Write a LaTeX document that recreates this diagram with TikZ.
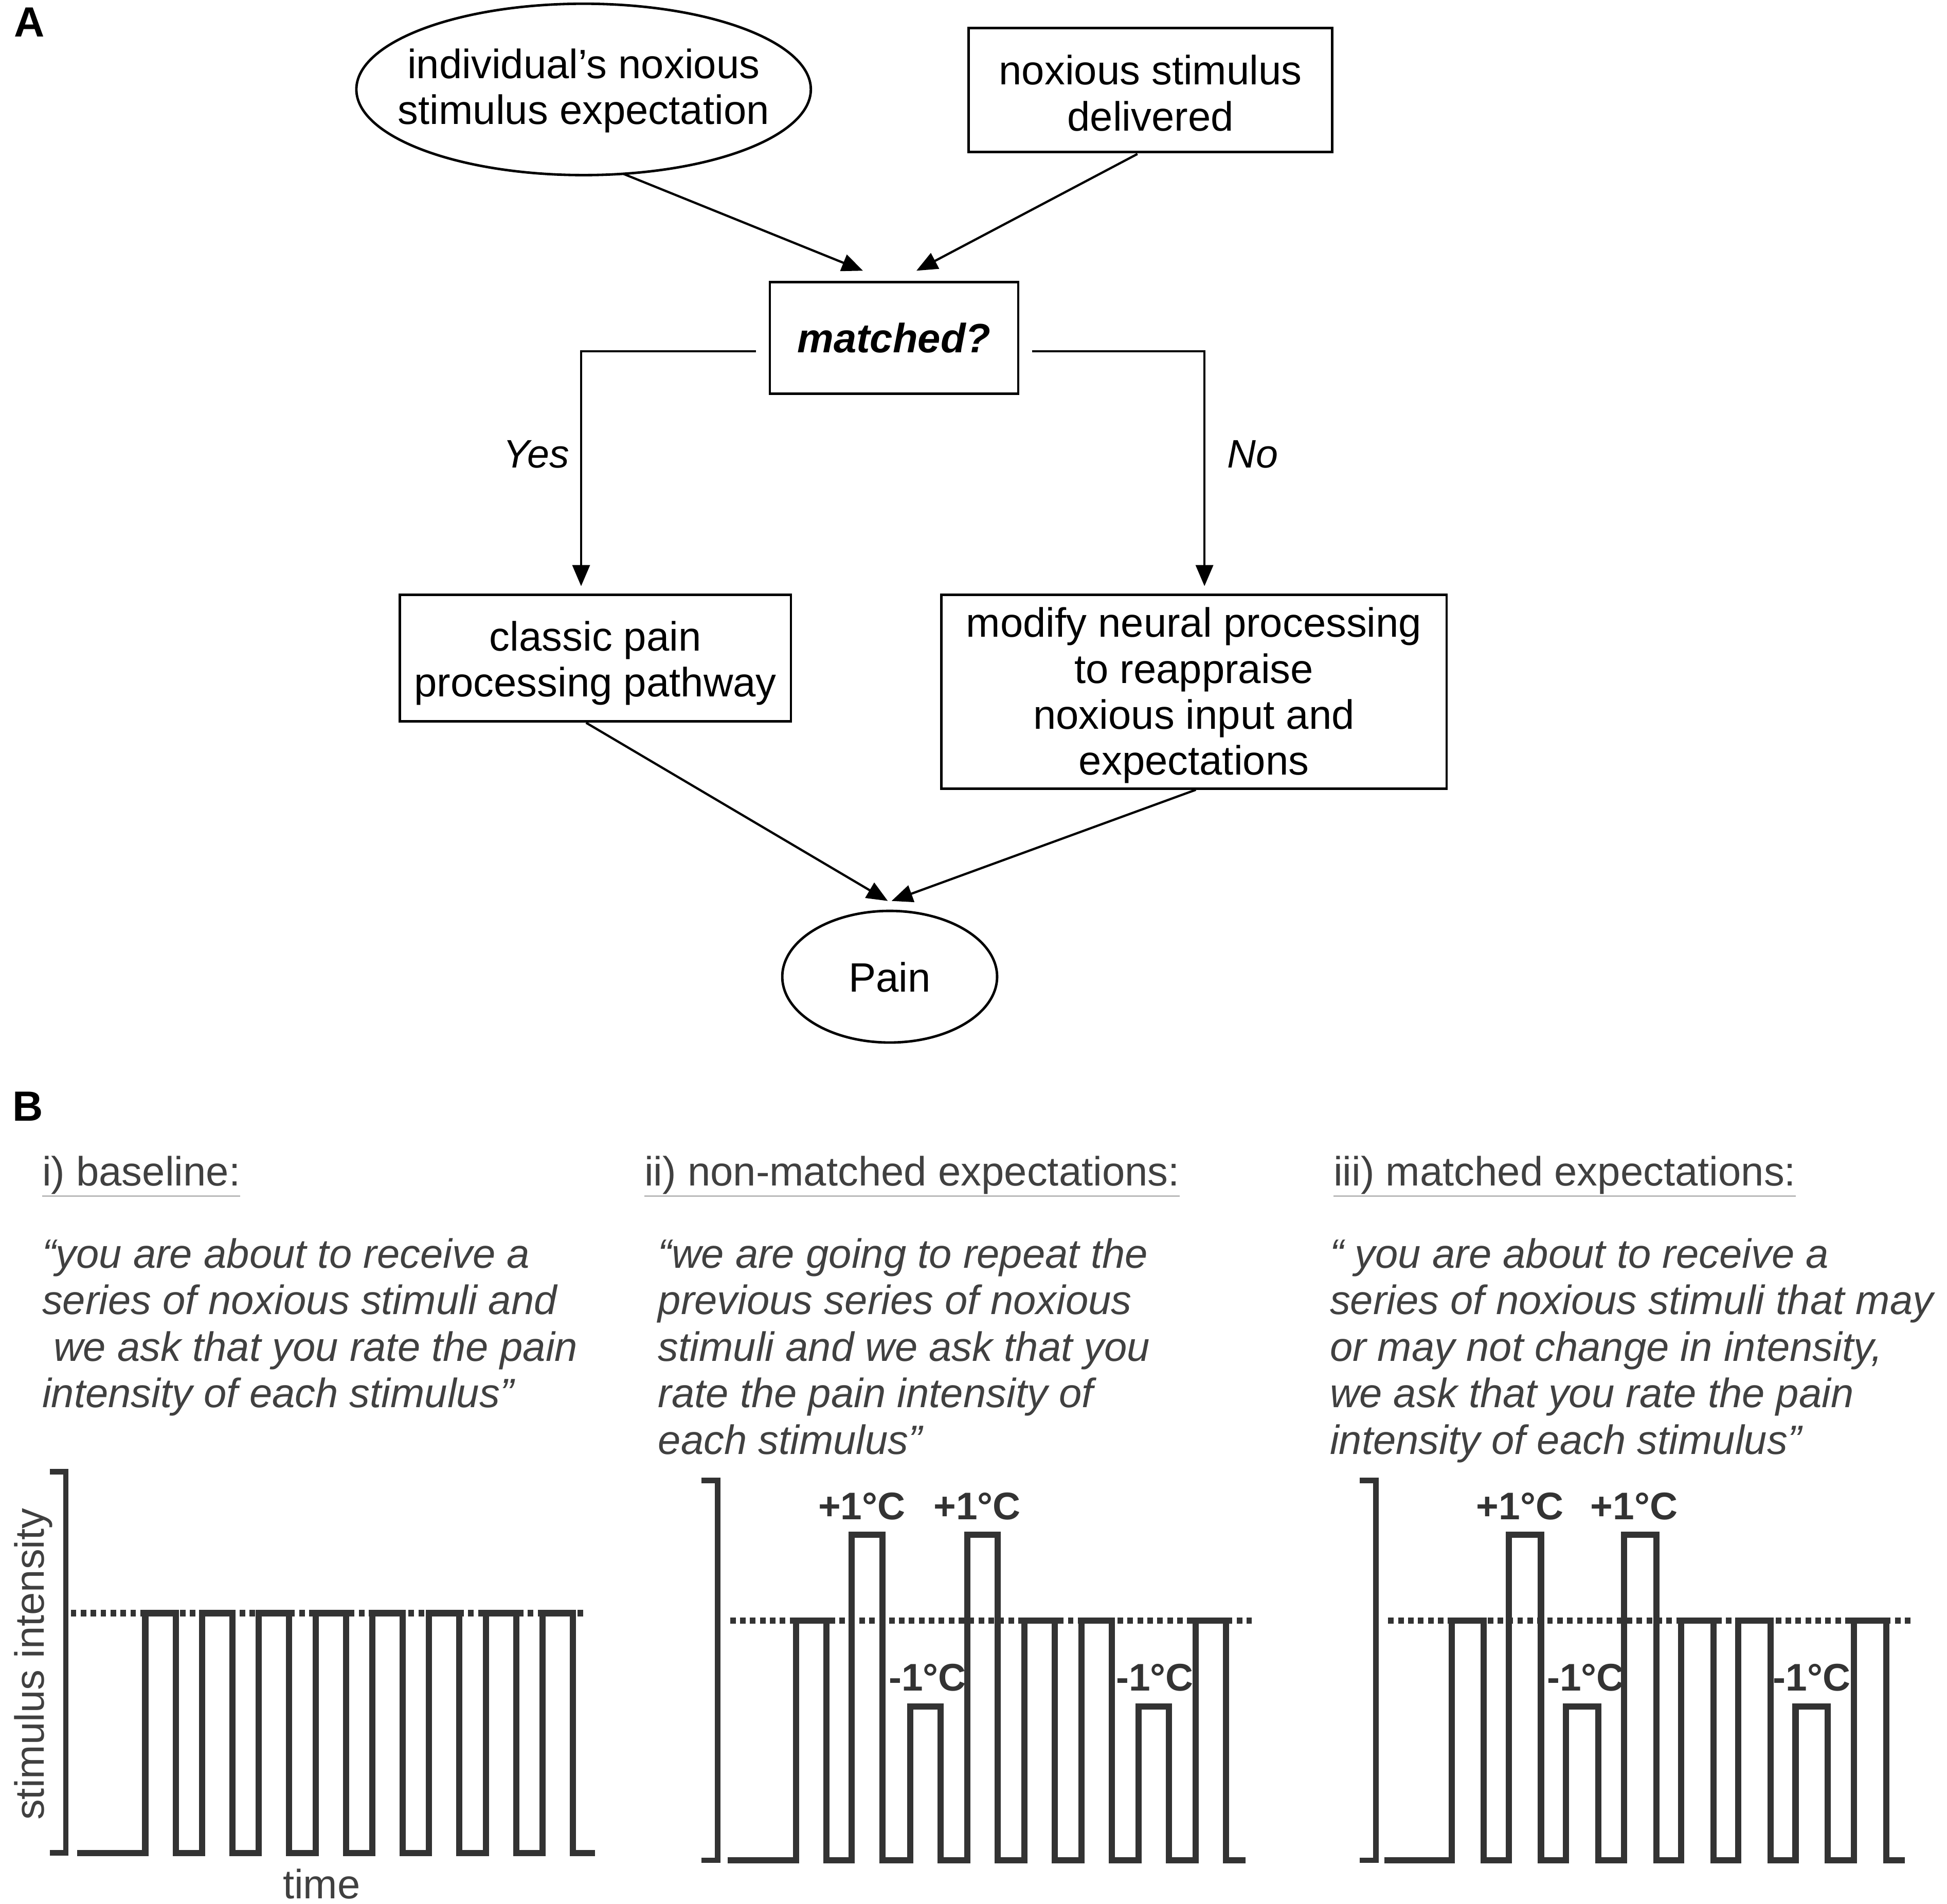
\documentclass[tikz,border=0pt]{standalone}
\usepackage{fontspec}
\setmainfont{Liberation Sans}
\usetikzlibrary{arrows.meta,shapes.geometric,calc}
\definecolor{txtB}{HTML}{404040}
\definecolor{waveC}{HTML}{333333}
\begin{document}
\begin{tikzpicture}[x=1pt,y=-1pt,
  every node/.style={inner sep=0pt,outer sep=0pt},
  ftxt/.style={font=\fontsize{33}{37}\selectfont,align=center},
  boxnode/.style={draw,line width=2pt,ftxt},
  ovalnode/.style={draw,ellipse,line width=2pt},
  arr/.style={line width=1.8pt,-{Triangle[length=17pt,width=14pt]}},
  panel/.style={font=\fontsize{34}{36}\selectfont\bfseries},
  branch/.style={font=\fontsize{32}{36}\selectfont\itshape},
  head/.style={font=\fontsize{33}{37}\selectfont,text=txtB,anchor=base west},
  quote/.style={font=\fontsize{33}{37.5}\selectfont\itshape,text=txtB,align=left,anchor=base west},
  wave/.style={draw=waveC,line width=5pt,line join=miter},
  bracket/.style={draw=waveC,line width=4.5pt},
  level/.style={draw=waveC,line width=5pt,dash pattern=on 4.5pt off 3.5pt},
  delta/.style={font=\fontsize{31}{33}\selectfont\bfseries,text=waveC},
  axis/.style={font=\fontsize{33}{37}\selectfont,text=txtB},
]
\fill[white] (0,0) rectangle (1568,1533.2);
\useasboundingbox (0,0) rectangle (1568,1533.2);

% ---------- Panel A ----------
\node[panel] (lblA) at (23.5,18) {A};
\node[ovalnode,minimum width=366pt,minimum height=138pt] (expect) at (470,72) {};
\node[ftxt] (expectT) at (470,73) {individual’s noxious\\stimulus expectation};
\node[boxnode,minimum width=293pt,minimum height=100pt] (deliv) at (926.5,72.5) {};
\node[ftxt] (delivT) at (926.5,75) {noxious stimulus\\delivered};
\node[boxnode,minimum width=200pt,minimum height=90pt,font=\fontsize{33}{37}\selectfont\bfseries\itshape] (match) at (720,272) {matched?};
\node[boxnode,minimum width=315pt,minimum height=102pt] (classic) at (479.5,530) {};
\node[ftxt] (classicT) at (479.5,534) {classic pain\\processing pathway};
\node[boxnode,minimum width=407pt,minimum height=156pt] (modify) at (961.5,557) {};
\node[ftxt] (modifyT) at (961.5,560) {modify neural processing\\to reappraise\\noxious input and\\expectations};
\node[ovalnode,minimum width=173pt,minimum height=106pt] (pain) at (716.5,786.5) {};
\node[ftxt] (painT) at (716.5,787) {Pain};

\draw[arr] ($(expect.south)+(32,-1)$) -- ($(match.north)+(-25,-9)$);
\draw[arr] ($(deliv.south)+(-10.5,1.5)$) -- ($(match.north)+(18,-9)$);
\draw[arr] ($(match.west)+(-11,11)$) -| ($(classic.north)+(-11.5,-7)$);
\draw[arr] ($(match.east)+(11,11)$) -| ($(modify.north)+(8.5,-7)$);
\node[branch] (yes) at (432,366) {Yes};
\node[branch] (no) at (1009,366) {No};
\draw[arr] ($(classic.south)+(-7.5,1)$) -- ($(pain.north)+(-1.5,-8)$);
\draw[arr] ($(modify.south)+(1.5,1)$) -- ($(pain.north)+(1.5,-8)$);

% ---------- Panel B ----------
\node[panel] (lblB) at (22.5,891) {B};
\node[head] (h1) at (34,955) {\underline{i) baseline:}};
\node[head] (h2) at (519,955) {\underline{ii) non-matched expectations:}};
\node[head] (h3) at (1074,955) {\underline{iii) matched expectations:}};

\node[quote] (q1) at (34,1133.5) {“you are about to receive a\\series of noxious stimuli and\\\hspace*{0.28em}we ask that you rate the pain\\intensity of each stimulus”};
\node[quote] (q2) at (530,1171) {“we are going to repeat the\\previous series of noxious\\stimuli and we ask that you\\rate the pain intensity of\\each stimulus”};
\node[quote] (q3) at (1071,1171) {“\ you are about to receive a\\series of noxious stimuli that may\\or may not change in intensity,\\we ask that you rate the pain\\intensity of each stimulus”};

% plot i
\draw[bracket] (40,1185) -- (53,1185) -- (53,1492) -- (40,1492);
\draw[level] (57,1299) -- (472,1299);
\draw[wave] (62,1492) foreach \a in {117,162.7,208.4,254.1,299.8,345.5,391.2,436.9} { -- (\a,1492) -- (\a,1299) -- ({\a+24.5},1299) -- ({\a+24.5},1492) } -- (479,1492);
\node[axis,rotate=90] (ylab) at (27,1340) {stimulus intensity};
\node[axis] (xlab) at (259,1517) {time};

% plot ii
\draw[bracket] (565,1192) -- (578,1192) -- (578,1498) -- (565,1498);
\draw[level] (588,1305) -- (1008,1305);
\draw[wave] (586,1498) foreach \a/\h in {641/1305,686/1236,733/1374,779/1236,825/1305,871/1305,917/1374,963/1305} { -- (\a,1498) -- (\a,\h) -- ({\a+24.5},\h) -- ({\a+24.5},1498) } -- (1003,1498);
\node[delta] (p2a) at (694,1213) {+1°C};
\node[delta] (p2b) at (787,1213) {+1°C};
\node[delta] (m2a) at (747,1351) {-1°C};
\node[delta] (m2b) at (930,1351) {-1°C};

% plot iii
\draw[bracket] (1095,1192) -- (1108,1192) -- (1108,1498) -- (1095,1498);
\draw[level] (1118,1305) -- (1540,1305);
\draw[wave] (1115,1498) foreach \a/\h in {1169/1305,1215/1236,1261/1374,1308/1236,1354/1305,1400/1305,1446/1374,1493/1305} { -- (\a,1498) -- (\a,\h) -- ({\a+26},\h) -- ({\a+26},1498) } -- (1534,1498);
\node[delta] (p3a) at (1224,1213) {+1°C};
\node[delta] (p3b) at (1316,1213) {+1°C};
\node[delta] (m3a) at (1277,1351) {-1°C};
\node[delta] (m3b) at (1459,1351) {-1°C};
\end{tikzpicture}
\end{document}
